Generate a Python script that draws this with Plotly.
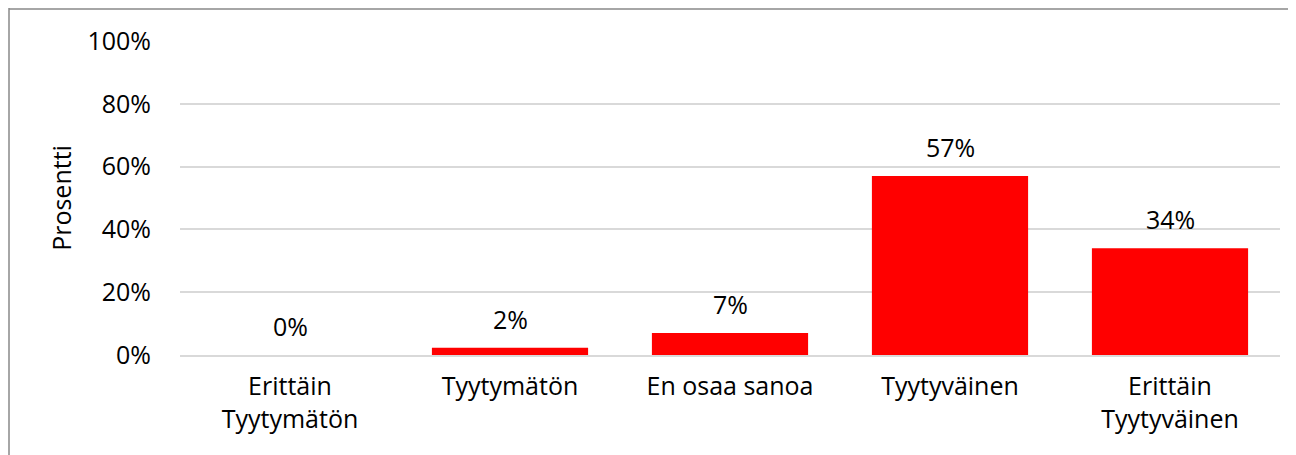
import plotly.graph_objects as go

categories = ["Erittäin<br>Tyytymätön", "Tyytymätön", "En osaa sanoa", "Tyytyväinen", "Erittäin<br>Tyytyväinen"]
values = [0.0, 0.023, 0.07, 0.57, 0.34]
labels = ["0%", "2%", "7%", "57%", "34%"]
y_ticks = [0, 0.2, 0.4, 0.6, 0.8, 1.0]
y_tick_text = ["0%", "20%", "40%", "60%", "80%", "100%"]

FONT = "Open Sans, Liberation Sans, sans-serif"
FS = 25

fig = go.Figure(go.Bar(
    x=categories, y=values,
    marker=dict(color="#FF0000", line=dict(width=0)),
    width=0.71, hoverinfo="x+y",
))

for c, v, t in zip(categories, values, labels):
    fig.add_annotation(x=c, y=v, text=t, showarrow=False, yanchor="bottom",
                       yshift=10, font=dict(size=FS, color="#000000", family=FONT))

# body has an 8px default margin; compensate
OFF = 8
L, T = 180 - OFF, 41 - OFF
W, H = 1296, 455
ph, pw = 314, 1100
B = H - T - ph
R = W - L - pw

fig.update_layout(
    width=W, height=H,
    margin=dict(l=L, r=R, t=T, b=B),
    plot_bgcolor="white", paper_bgcolor="white",
    font=dict(family=FONT, size=FS, color="#000000"),
    showlegend=False,
    xaxis=dict(showgrid=False, showline=True, linecolor="#D9D9D9", linewidth=2,
               ticks="", tickfont=dict(size=FS), ticklabelstandoff=8, automargin=False),
    yaxis=dict(range=[0, 1.0], tickvals=y_ticks, ticktext=y_tick_text,
               showgrid=True, gridcolor="#D9D9D9", gridwidth=2, zeroline=False,
               showline=False, ticks="", tickfont=dict(size=FS),
               ticklabelstandoff=28, automargin=False,
               title=dict(text="Prosentti", font=dict(size=FS), standoff=8)),
    shapes=[
        dict(type="line", xref="paper", yref="paper",
             x0=(9 - OFF - L) / pw, x1=(9 - OFF - L) / pw,
             y0=1 + (T - (8 - OFF)) / ph, y1=-(B + 5) / ph,
             line=dict(color="#898989", width=1.5)),
        dict(type="line", xref="paper", yref="paper",
             x0=(9 - OFF - L) / pw, x1=(W + 5 - L) / pw,
             y0=1 + (T - (8 - OFF) - 1) / ph, y1=1 + (T - (8 - OFF) - 1) / ph,
             line=dict(color="#898989", width=1.5)),
    ],
)

fig.write_html("out.html")
